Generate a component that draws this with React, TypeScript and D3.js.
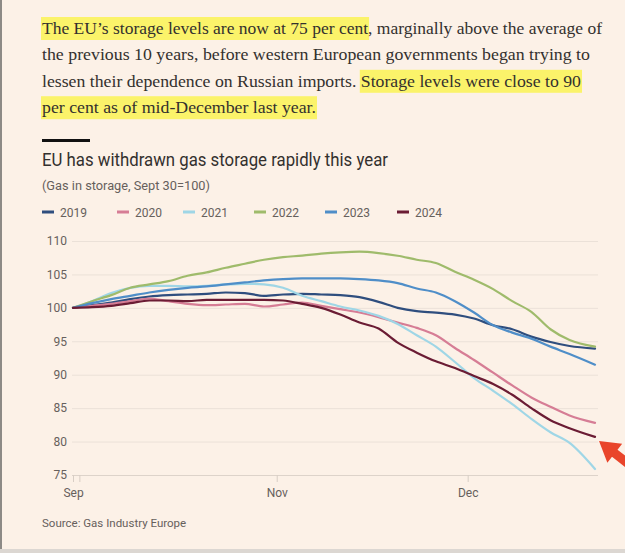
import { useEffect, useRef } from 'react'
import * as d3 from 'd3'

// paragraph above the chart, split the way the page wraps it
const paragraphLines: { text: string; hl: boolean }[][] = [
  [
    { text: 'The EU’s storage levels are now at 75 per cent', hl: true },
    { text: ', marginally above the average of', hl: false }
  ],
  [{ text: 'the previous 10 years, before western European governments began trying to', hl: false }],
  [
    { text: 'lessen their dependence on Russian imports. ', hl: false },
    { text: 'Storage levels were close to 90', hl: true }
  ],
  [{ text: 'per cent as of mid-December last year.', hl: true }]
]
const paragraphWidths = [560, 548, 539, 274]

const title = 'EU has withdrawn gas storage rapidly this year'
const subtitle = '(Gas in storage, Sept 30=100)'
const source = 'Source: Gas Industry Europe'

// sample dates (Sept 30 -> Dec 21)
const dates = [
  '2024-09-30', '2024-10-03', '2024-10-06', '2024-10-09', '2024-10-12', '2024-10-15', '2024-10-18',
  '2024-10-21', '2024-10-24', '2024-10-27', '2024-10-30', '2024-11-02', '2024-11-05', '2024-11-08',
  '2024-11-11', '2024-11-14', '2024-11-17', '2024-11-20', '2024-11-23', '2024-11-26', '2024-11-29',
  '2024-12-02', '2024-12-05', '2024-12-08', '2024-12-11', '2024-12-14', '2024-12-17', '2024-12-21'
]

const s2019 = [100, 100.4, 100.8, 101.3, 101.7, 101.9, 102, 102.1, 102.3, 102.2, 101.8, 102, 102.1, 102,
  101.9, 101.6, 100.9, 100, 99.5, 99.3, 99, 98.4, 97.4, 96.8, 95.7, 94.9, 94.3, 93.9]
const s2020 = [100, 100.3, 100.6, 101, 101.4, 101, 100.6, 100.4, 100.5, 100.6, 100.2, 100.5, 100.8, 100.3,
  99.8, 99.3, 98.6, 97.8, 97, 95.9, 94, 92.2, 90.3, 88.4, 86.6, 85.2, 83.9, 82.8]
const s2021 = [100, 101, 102.2, 103, 103.3, 103.3, 103.2, 103.3, 103.5, 103.6, 103.5, 103, 101.8, 101,
  100.2, 99.6, 98.8, 97.6, 95.9, 94.2, 91.9, 89.5, 87.6, 85.6, 83.4, 81.4, 79.8, 75.9]
const s2022 = [100, 101, 101.9, 103, 103.5, 104, 104.8, 105.3, 106, 106.6, 107.2, 107.6, 107.8, 108.1,
  108.3, 108.4, 108.2, 107.8, 107.2, 106.7, 105.4, 104.2, 102.8, 101, 99.4, 96.8, 95.2, 94.2]
const s2023 = [100, 100.7, 101.3, 101.8, 102.3, 102.7, 103, 103.2, 103.5, 103.8, 104.1, 104.3, 104.4, 104.4,
  104.4, 104.3, 104.1, 103.7, 102.9, 102.3, 101, 99.3, 97.4, 96.3, 95.4, 94.2, 93.1, 91.5]
const s2024 = [100, 100.1, 100.3, 100.7, 101.1, 101.1, 101, 101.2, 101.2, 101.2, 101.2, 101.1, 100.6, 100,
  99, 97.8, 96.9, 94.8, 93.3, 92, 91, 89.8, 88.6, 87, 85, 83.2, 82, 80.7]

const years = ['2019', '2020', '2021', '2022', '2023', '2024']
const seriesValues = [s2019, s2020, s2021, s2022, s2023, s2024]
const colors = ['#2f4e7e', '#d67d95', '#9fd6e6', '#9fbb6b', '#4f8ec8', '#6b1c34']

const yTicks = [75, 80, 85, 90, 95, 100, 105, 110]
const xTickDates = ['2024-09-30', '2024-10-01', '2024-11-01', '2024-12-01']
const xTickLabels = ['Sep', '', 'Nov', 'Dec']

export default function App() {
  const svgRef = useRef<SVGSVGElement>(null)
  const width = 625
  const height = 553

  useEffect(() => {
    if (!svgRef.current) return
    const svg = d3.select(svgRef.current)
    svg.selectAll('*').remove()

    const serif = '"Liberation Serif", serif'
    const sans = 'Roboto, "Liberation Sans", sans-serif'
    const textDark = '#33302e'
    const textGrey = '#66605c'

    svg.append('rect').attr('width', width).attr('height', height).attr('fill', '#fcf1e7')
    // screenshot frame edges
    svg.append('rect').attr('x', 0).attr('y', 0).attr('width', 2).attr('height', 549).attr('fill', '#8d8a86')
    svg.append('rect').attr('x', 0).attr('y', 549).attr('width', width).attr('height', 4).attr('fill', '#dcd7d2')

    // paragraph font size: largest size where every full line still fits its measured width
    const measure = (s: string, fs: number) => {
      const tmp = svg.append('text').attr('font-family', serif).attr('font-size', fs).text(s)
      const w = (tmp.node() as SVGTextElement).getComputedTextLength()
      tmp.remove()
      return w
    }
    const fitK = d3.min(paragraphLines, (segs, i) =>
      paragraphWidths[i] / measure(segs.map(s => s.text).join(''), 19)) || 1
    const paraSize = Math.min(19, 19 * fitK)

    // one text per wrapped line, highlight boxes measured from substrings
    const hlLayer = svg.append('g')
    const txtLayer = svg.append('g')
    paragraphLines.forEach((segs, i) => {
      const baseline = 34 + i * 26.4
      const full = segs.map(s => s.text).join('')
      const t = txtLayer.append('text')
        .attr('x', 42)
        .attr('y', baseline)
        .attr('font-family', serif)
        .attr('font-size', paraSize)
        .attr('fill', textDark)
        .text(full)
      const node = t.node() as SVGTextElement
      const natural = node.getComputedTextLength()
      const k = paragraphWidths[i] / natural
      let idx = 0
      segs.forEach(s => {
        const len = s.text.trimEnd().length
        if (s.hl) {
          const start = idx > 0 ? node.getSubStringLength(0, idx) : 0
          const w = node.getSubStringLength(idx, len)
          hlLayer.append('rect')
            .attr('x', 42 + start * k - 1)
            .attr('y', baseline - 17)
            .attr('width', w * k + 2)
            .attr('height', 23)
            .attr('fill', '#fbf36a')
        }
        idx += s.text.length
      })
      t.attr('textLength', paragraphWidths[i]).attr('lengthAdjust', 'spacingAndGlyphs')
    })

    // FT style rule + titles
    svg.append('rect').attr('x', 42).attr('y', 139).attr('width', 48).attr('height', 3).attr('fill', '#111')
    svg.append('text')
      .attr('x', 42).attr('y', 166)
      .attr('font-family', sans).attr('font-size', 17.5).attr('fill', textDark)
      .attr('textLength', 346).attr('lengthAdjust', 'spacingAndGlyphs')
      .text(title)
    svg.append('text')
      .attr('x', 42).attr('y', 190)
      .attr('font-family', sans).attr('font-size', 12).attr('fill', textGrey)
      .attr('textLength', 168).attr('lengthAdjust', 'spacingAndGlyphs')
      .text(subtitle)

    // legend
    const legendX = [42, 117, 183, 254, 325, 397]
    years.forEach((yr, i) => {
      const g = svg.append('g').attr('transform', `translate(${legendX[i]},212)`)
      g.append('rect').attr('x', 0).attr('y', -1.5).attr('width', 12).attr('height', 3).attr('fill', colors[i])
      g.append('text')
        .attr('x', 18).attr('y', 4.5)
        .attr('font-family', sans).attr('font-size', 12).attr('fill', textGrey)
        .text(yr)
    })

    // scales
    const parsed = dates.map(d => new Date(d + 'T00:00:00'))
    const x = d3.scaleTime()
      .domain([parsed[0], parsed[parsed.length - 1]])
      .range([73, 595])
    const y = d3.scaleLinear().domain([75, 110]).range([475, 241])

    // gridlines
    const grid = svg.append('g')
      .attr('transform', 'translate(72,0)')
      .call(d3.axisLeft(y).tickValues(yTicks).tickSize(-526).tickFormat(() => ''))
    grid.select('.domain').remove()
    grid.selectAll('line').attr('stroke', '#ebe1d8').attr('stroke-width', 1)
    grid.selectAll('.tick').filter(d => d === 75).select('line').attr('stroke', '#ddd3ca')

    // y labels
    const yAxis = svg.append('g')
      .attr('transform', 'translate(72,0)')
      .call(d3.axisLeft(y).tickValues(yTicks).tickSize(0).tickPadding(5))
    yAxis.select('.domain').remove()
    yAxis.selectAll('text')
      .attr('font-family', sans).attr('font-size', 12).attr('fill', textGrey)

    // x axis
    const xAxis = svg.append('g')
      .attr('transform', 'translate(0,475)')
      .call(d3.axisBottom(x)
        .tickValues(xTickDates.map(d => new Date(d + 'T00:00:00')))
        .tickSize(7)
        .tickPadding(6)
        .tickFormat((_, i) => xTickLabels[i]))
    xAxis.select('.domain').remove()
    xAxis.selectAll('line').attr('stroke', '#d8cec5')
    xAxis.selectAll('text')
      .attr('font-family', sans).attr('font-size', 12).attr('fill', textGrey)

    // lines
    const line = d3.line<number>()
      .x((_, i) => x(parsed[i]))
      .y(d => y(d))
      .curve(d3.curveMonotoneX)

    seriesValues.forEach((vals, i) => {
      svg.append('path')
        .datum(vals)
        .attr('fill', 'none')
        .attr('stroke', colors[i])
        .attr('stroke-width', 2.2)
        .attr('stroke-linejoin', 'round')
        .attr('stroke-linecap', 'round')
        .attr('d', line)
    })

    // source
    svg.append('text')
      .attr('x', 42).attr('y', 527)
      .attr('font-family', sans).attr('font-size', 11.5).attr('fill', textGrey)
      .text(source)

    // red annotation arrow pointing at the 2024 line
    svg.append('path')
      .attr('d', 'M0,0 L20,-12 L20,-4.5 L60,-4.5 L60,4.5 L20,4.5 L20,12 Z')
      .attr('transform', 'translate(599,441) rotate(38)')
      .attr('fill', '#e9452b')
  }, [])

  return (
    <svg
      ref={svgRef}
      width={width}
      height={height}
      style={{ position: 'absolute', left: 0, top: 0, display: 'block' }}
    />
  )
}
